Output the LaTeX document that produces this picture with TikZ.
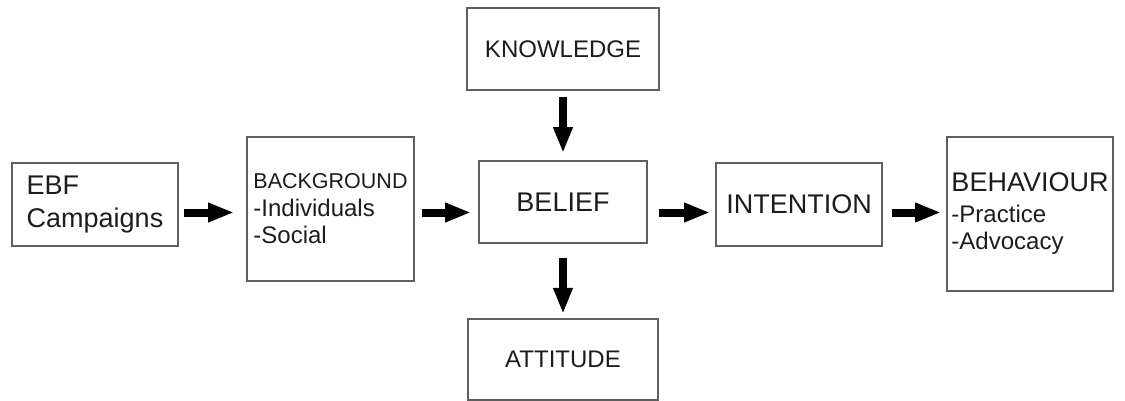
\documentclass[tikz,border=0pt]{standalone}
\usepackage{fontspec}
\setmainfont{Liberation Sans}
\usepackage{xcolor}
\definecolor{Box Grey}{HTML}{5f5f5f}
\definecolor{Ink}{HTML}{1c1c1c}
\colorlet{cLine}{Box Grey}
\colorlet{cText}{Ink}
\usetikzlibrary{positioning, arrows.meta}
\newcommand{\bigfont}{\fontsize{13.5pt}{16.5pt}\selectfont}
\newcommand{\midfont}{\fontsize{12pt}{13.75pt}\selectfont}
\newcommand{\smallfont}{\fontsize{10.75pt}{13.75pt}\selectfont}
\tikzset{
	>={Triangle[length=13pt,width=9pt]},
	block/.style={
		draw=cLine,
		line width=.9pt,
		text=cText,
		align=left,
		inner sep=1pt,
		font=\bigfont
	},
	edge/.style={
		->,
		draw=black,
		line width=4pt
	}
}

\begin{document}
\begin{tikzpicture}[x=0.5pt, y=-0.5pt]
\useasboundingbox (0,0) rectangle (1125,401);
% ---
% row of blocks
% ---
\node[block, minimum width=83pt, minimum height=41.5pt] at (95,204.5) (ebf) {EBF\\Campaigns};
\node[block, minimum width=83.5pt, minimum height=72pt, font=\midfont] at (330.5,209) (background)
	{{\smallfont BACKGROUND}\\-Individuals\\-Social};
\node[block, minimum width=84pt, minimum height=41pt] at (563,202) (belief) {BELIEF};
\node[block, minimum width=96pt, minimum height=41pt, font=\midfont, above=34.5pt of belief] (knowledge) {KNOWLEDGE};
\node[block, minimum width=95pt, minimum height=40.5pt, font=\midfont, below=37pt of belief] (attitude) {ATTITUDE};
\node[block, minimum width=83pt, minimum height=41.5pt] at (799,204.5) (intention) {INTENTION};
\node[block, minimum width=83pt, minimum height=77pt, font=\midfont] at (1030,214) (behaviour)
	{{\bigfont BEHAVIOUR}\\[1.5pt]-Practice\\-Advocacy};

\coordinate (axis) at (0,212.5);

\draw[edge, shorten <=2.5pt, shorten >=6pt] (ebf.east |- axis) -- (background.west |- axis);
\draw[edge, shorten <=3.5pt, shorten >=3.5pt] (background.east |- axis) -- (belief.west |- axis);
\draw[edge, shorten <=5.5pt, shorten >=2.5pt] (belief.east |- axis) -- (intention.west |- axis);
\draw[edge, shorten <=4.5pt, shorten >=2.5pt] (intention.east |- axis) -- (behaviour.west |- axis);
\draw[edge, shorten <=3pt, shorten >=3.5pt] (knowledge.south) -- (knowledge.south |- belief.north);
\draw[edge, shorten <=7pt, shorten >=2pt] (knowledge.south |- belief.south) -- (knowledge.south |- attitude.north);
\end{tikzpicture}
\end{document}
